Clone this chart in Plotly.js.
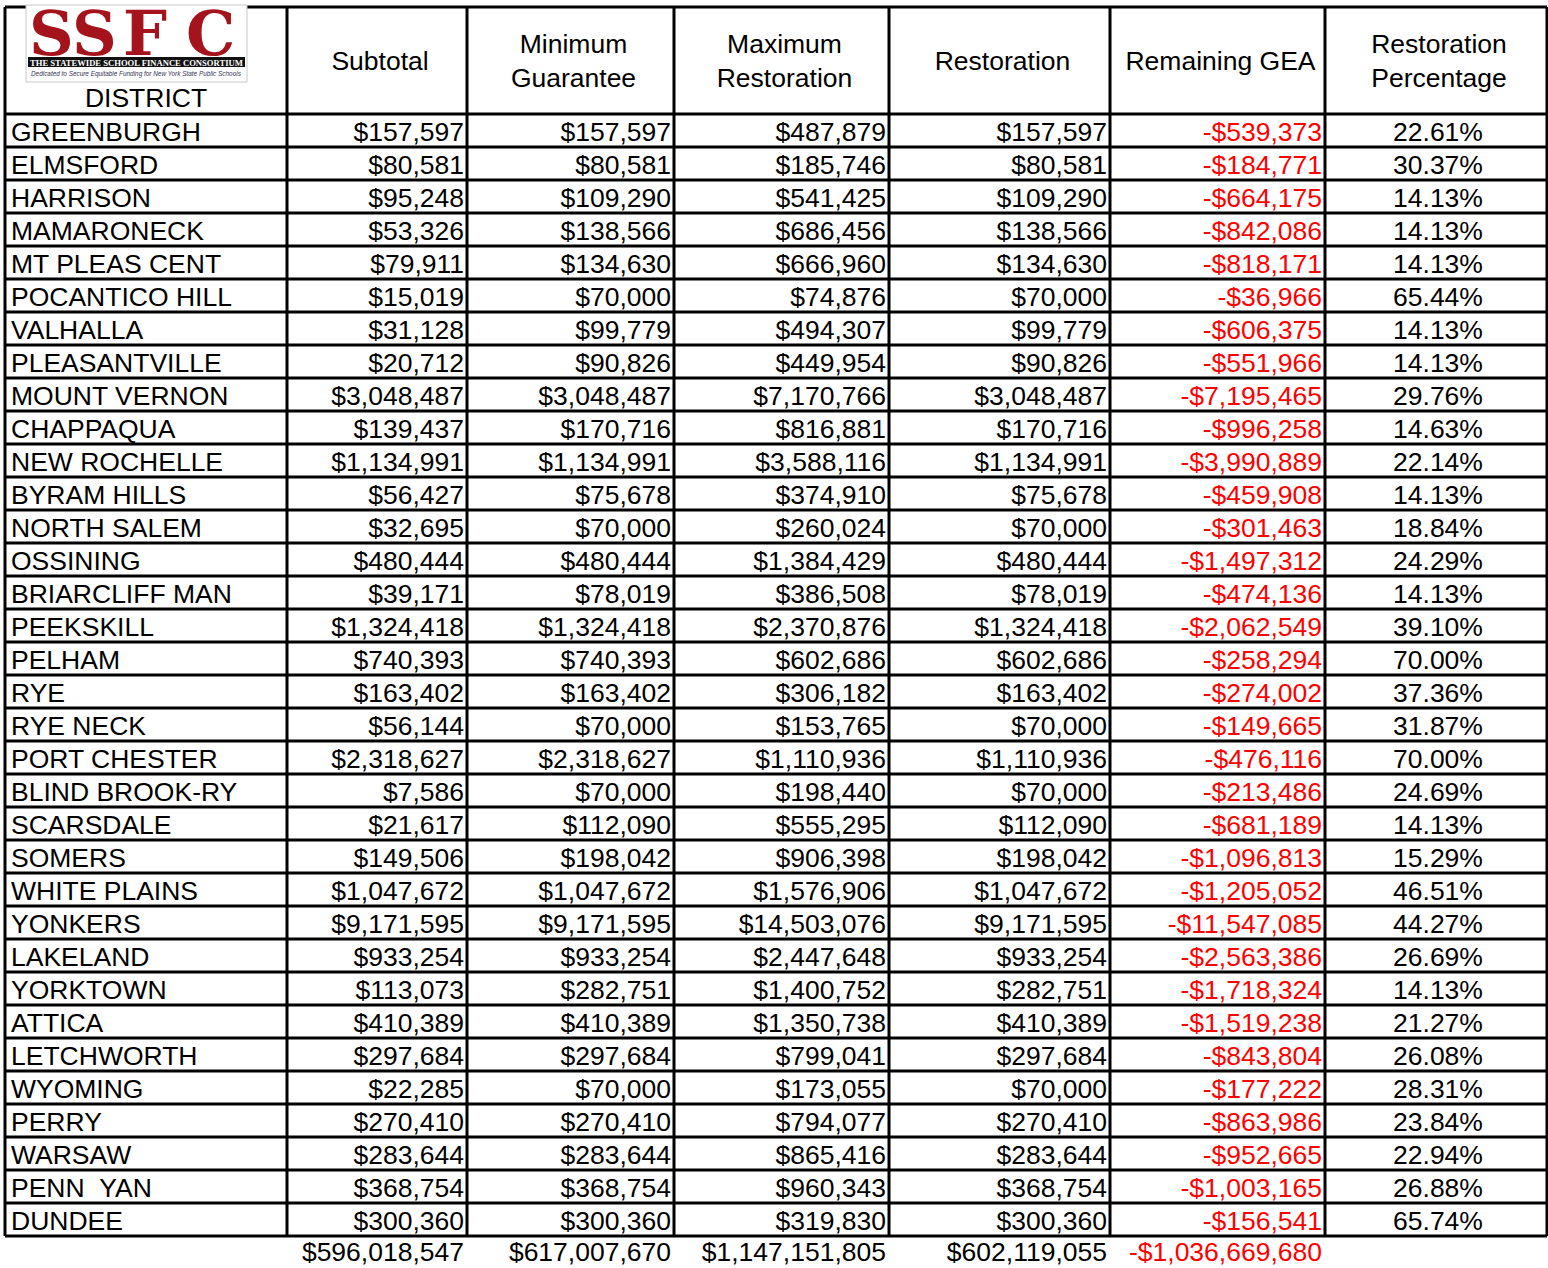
<!DOCTYPE html>
<html><head><meta charset="utf-8">
<script src="https://cdn.plot.ly/plotly-3.0.1.min.js"></script>
<style>html,body{margin:0;padding:0;background:#fff}</style>
</head><body><div id="chart" style="width:1548px;height:1268px"></div>
<script>
// ---------------- DATA ----------------
const headers = ["DISTRICT", "Subtotal", "Minimum<br>Guarantee", "Maximum<br>Restoration", "Restoration", "Remaining GEA", "Restoration<br>Percentage"];
const districts = ["GREENBURGH","ELMSFORD","HARRISON","MAMARONECK","MT PLEAS CENT","POCANTICO HILL","VALHALLA","PLEASANTVILLE","MOUNT VERNON","CHAPPAQUA","NEW ROCHELLE","BYRAM HILLS","NORTH SALEM","OSSINING","BRIARCLIFF MAN","PEEKSKILL","PELHAM","RYE","RYE NECK","PORT CHESTER","BLIND BROOK-RY","SCARSDALE","SOMERS","WHITE PLAINS","YONKERS","LAKELAND","YORKTOWN","ATTICA","LETCHWORTH","WYOMING","PERRY","WARSAW","PENN\u00a0\u00a0YAN","DUNDEE"];
const subtotal = [157597,80581,95248,53326,79911,15019,31128,20712,3048487,139437,1134991,56427,32695,480444,39171,1324418,740393,163402,56144,2318627,7586,21617,149506,1047672,9171595,933254,113073,410389,297684,22285,270410,283644,368754,300360];
const minimumGuarantee = [157597,80581,109290,138566,134630,70000,99779,90826,3048487,170716,1134991,75678,70000,480444,78019,1324418,740393,163402,70000,2318627,70000,112090,198042,1047672,9171595,933254,282751,410389,297684,70000,270410,283644,368754,300360];
const maximumRestoration = [487879,185746,541425,686456,666960,74876,494307,449954,7170766,816881,3588116,374910,260024,1384429,386508,2370876,602686,306182,153765,1110936,198440,555295,906398,1576906,14503076,2447648,1400752,1350738,799041,173055,794077,865416,960343,319830];
const restoration = [157597,80581,109290,138566,134630,70000,99779,90826,3048487,170716,1134991,75678,70000,480444,78019,1324418,602686,163402,70000,1110936,70000,112090,198042,1047672,9171595,933254,282751,410389,297684,70000,270410,283644,368754,300360];
const remainingGEA = [-539373,-184771,-664175,-842086,-818171,-36966,-606375,-551966,-7195465,-996258,-3990889,-459908,-301463,-1497312,-474136,-2062549,-258294,-274002,-149665,-476116,-213486,-681189,-1096813,-1205052,-11547085,-2563386,-1718324,-1519238,-843804,-177222,-863986,-952665,-1003165,-156541];
const restorationPct = [22.61,30.37,14.13,14.13,14.13,65.44,14.13,14.13,29.76,14.63,22.14,14.13,18.84,24.29,14.13,39.10,70.00,37.36,31.87,70.00,24.69,14.13,15.29,46.51,44.27,26.69,14.13,21.27,26.08,28.31,23.84,22.94,26.88,65.74];
const columnTotals = [596018547, 617007670, 1147151805, 602119055, -1036669680];

// ---------------- LAYOUT CONSTANTS ----------------
const W = 1548, H = 1268;
const colEdges = [5, 287, 467, 674, 889, 1110, 1325, 1547];
const tableTop = 7, headerH = 107, rowH = 33;
const FONT = "Liberation Sans, Arial, sans-serif";
const FS = 26.5;
const RED = "#ff0000";
const TEXT_DY = 3.5;
const HEAD_DX = 3;

const nRows = districts.length;
const bodyTop = tableTop + headerH;
const rowCenter = i => bodyTop + rowH * (i + 0.5) + TEXT_DY;
const colCenter = c => (colEdges[c] + colEdges[c + 1]) / 2;
const money = v => (v < 0 ? "-$" : "$") + Math.abs(v).toLocaleString("en-US");
const pct = v => v.toFixed(2) + "%";
const rowsY = districts.map((_, i) => rowCenter(i));

const traces = [];
function textTrace(x, y, text, pos, color) {
  return {type: "scatter", mode: "text", x: x, y: y, text: text, textposition: pos,
    textfont: {family: FONT, size: FS, color: color || "#000"}, hoverinfo: "skip", showlegend: false, cliponaxis: false};
}
traces.push(textTrace(districts.map(() => colEdges[0] + 6), rowsY, districts, "middle right"));
const moneyCols = [subtotal, minimumGuarantee, maximumRestoration, restoration, remainingGEA];
moneyCols.forEach((arr, k) => {
  const c = k + 1;
  traces.push(textTrace(arr.map(() => colEdges[c + 1] - 3), rowsY, arr.map(money), "middle left",
    arr.map(v => v < 0 ? RED : "#000")));
});
traces.push(textTrace(restorationPct.map(() => colCenter(6) + 2), rowsY, restorationPct.map(pct), "middle center"));
traces.push(textTrace(columnTotals.map((_, k) => colEdges[k + 2] - 3), columnTotals.map(() => rowCenter(nRows) - 1.5),
  columnTotals.map(money), "middle left", columnTotals.map(v => v < 0 ? RED : "#000")));
traces.push(textTrace(headers.slice(1).map((_, k) => colCenter(k + 1) + HEAD_DX), headers.slice(1).map(() => tableTop + headerH / 2 + 3),
  headers.slice(1), "middle center"));
traces.push(textTrace([colCenter(0)], [tableTop + headerH - 14], [headers[0]], "middle center"));

// grid lines
const shapes = [];
const LW = 3;
const hLines = [tableTop, bodyTop];
for (let i = 1; i <= nRows; i++) hLines.push(bodyTop + rowH * i);
hLines.forEach(y => shapes.push({type: "line", xref: "x", yref: "y", x0: colEdges[0], x1: colEdges[colEdges.length - 1], y0: y, y1: y, line: {color: "#000", width: LW}}));
const tableBottom = bodyTop + rowH * nRows;
colEdges.forEach(x => shapes.push({type: "line", xref: "x", yref: "y", x0: x, x1: x, y0: tableTop, y1: tableBottom, line: {color: "#000", width: LW}}));

// logo (SSFC)
shapes.push({type: "rect", xref: "x", yref: "y", x0: 26, x1: 247, y0: 5, y1: 82, fillcolor: "#fff", line: {color: "#c8c8c8", width: 1}});
shapes.push({type: "rect", xref: "x", yref: "y", x0: 28, x1: 245, y0: 57, y1: 67, fillcolor: "#111", line: {width: 0}});
const annotations = [];
const LOGO_RED = "#a5141c";
[["S", 51], ["S", 94], ["F", 145], ["C", 210]].forEach(([ch, x]) => annotations.push({
  xref: "x", yref: "y", x: x, y: 33, text: "<b>" + ch + "</b>", showarrow: false, xanchor: "center", yanchor: "middle",
  font: {family: "DejaVu Serif, serif", size: 62, color: LOGO_RED}
}));
annotations.push({xref: "x", yref: "y", x: 136.5, y: 62.5, text: "<b>THE STATEWIDE SCHOOL FINANCE CONSORTIUM</b>", showarrow: false,
  xanchor: "center", yanchor: "middle", font: {family: "Liberation Serif, serif", size: 8.6, color: "#fff"}});
annotations.push({xref: "x", yref: "y", x: 136.5, y: 74, text: "<i>Dedicated to Secure Equitable Funding for New York State Public Schools</i>", showarrow: false,
  xanchor: "center", yanchor: "middle", font: {family: "Liberation Sans, sans-serif", size: 6.4, color: "#333355"}});

const layout = {
  width: W, height: H, margin: {l: 0, r: 0, t: 0, b: 0}, paper_bgcolor: "#fff", plot_bgcolor: "#fff",
  xaxis: {range: [0, W], visible: false, fixedrange: true},
  yaxis: {range: [H, 0], visible: false, fixedrange: true},
  shapes: shapes, annotations: annotations, hovermode: false, showlegend: false
};
Plotly.newPlot("chart", traces, layout, {displayModeBar: false, staticPlot: true});
</script></body></html>
